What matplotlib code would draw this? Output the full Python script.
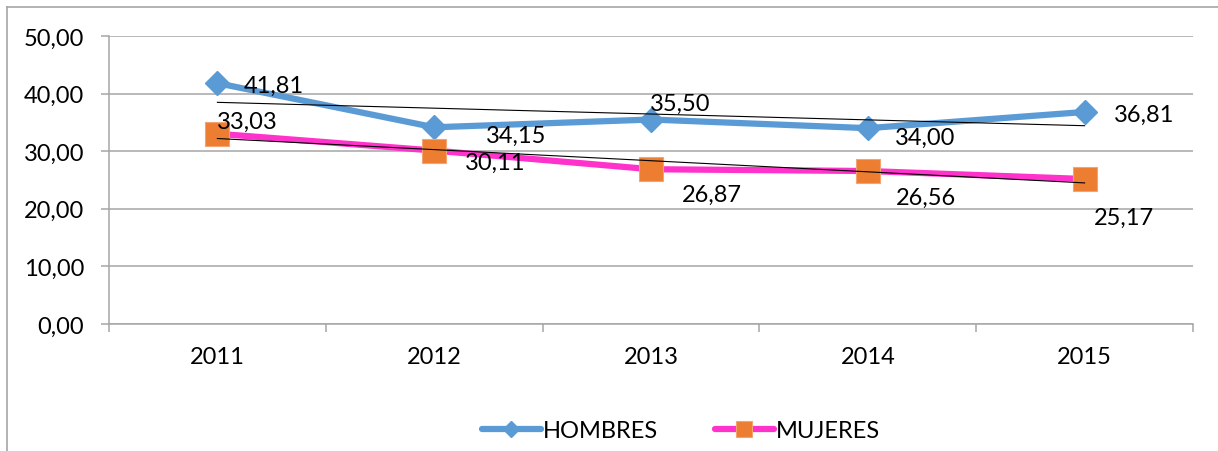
import numpy as np
import matplotlib
matplotlib.use("Agg")
import matplotlib.pyplot as plt
from matplotlib.lines import Line2D

plt.rcParams['font.family'] = ['Lato', 'DejaVu Sans']

years = ['2011', '2012', '2013', '2014', '2015']
hombres = [41.81, 34.15, 35.50, 34.00, 36.81]
mujeres = [33.03, 30.11, 26.87, 26.56, 25.17]

# label offsets in pixels (dx, dy)
off_h = [(56, -2), (82, -8), (29, 16), (57, -9), (60, -2)]
off_m = [(30, 12), (61, -12), (61, -25), (58, -26), (39, -38)]

grey = '#A6A6A6'
blue = '#5B9BD5'
pink = '#FF33CC'
orange = '#ED7D31'
fs = 17

fig = plt.figure(figsize=(12.18, 4.52), dpi=100)
ax = fig.add_axes([109/1218, 1-325/452, (1193-109)/1218, (325-37)/452])

x = np.arange(len(years))
l1, = ax.plot(x, hombres, color=blue, lw=4.5, marker='D', ms=12,
              mfc=blue, mec=blue, solid_capstyle='round', zorder=3, label='HOMBRES')
l2, = ax.plot(x, mujeres, color=pink, lw=4.5, marker='s', ms=17,
              mfc=orange, mec='#F4A470', mew=0.8, solid_capstyle='round', zorder=3, label='MUJERES')

# linear trend lines
for vals in (hombres, mujeres):
    k, b = np.polyfit(x, vals, 1)
    ax.plot(x, k*x + b, color='black', lw=0.8, zorder=4)

for vals, offs in ((hombres, off_h), (mujeres, off_m)):
    for xi, v, (dx, dy) in zip(x, vals, offs):
        ax.annotate(f'{v:.2f}'.replace('.', ','), (xi, v), xytext=(dx, dy),
                    textcoords='offset pixels', ha='center', va='center',
                    fontsize=fs, zorder=5)

ax.set_xlim(-0.5, 4.5)
ax.set_ylim(0, 50)
ax.set_yticks(np.arange(0, 51, 10))
ax.set_yticklabels([f'{v:.2f}'.replace('.', ',') for v in np.arange(0, 51, 10)])
ax.set_xticks(x)
ax.set_xticklabels(years)
ax.set_xticks(np.arange(-0.5, 4.6, 1), minor=True)
ax.tick_params(axis='x', which='major', length=0, pad=16, labelsize=fs)
ax.tick_params(axis='x', which='minor', length=5.5, width=1.1, color=grey, direction='out')
ax.tick_params(axis='y', length=5.8, width=1.1, color=grey, pad=12, labelsize=fs)
ax.grid(axis='y', color=grey, lw=1.1)
ax.set_axisbelow(True)
for s in ['top', 'right']:
    ax.spines[s].set_visible(False)
for s in ['left', 'bottom']:
    ax.spines[s].set_color(grey)
    ax.spines[s].set_linewidth(1.1)

leg = fig.legend(handles=[l1, l2], loc='center', bbox_to_anchor=(681/1218, 1-432/452),
                 ncol=2, frameon=False, fontsize=fs, handlelength=2.5,
                 handletextpad=0.1, columnspacing=2.4)
hs = leg.legend_handles
hs[0].set_markersize(8)
hs[1].set_markersize(12)

# outer chart frame (left and top edges visible)
fig.add_artist(Line2D([7/1218, 7/1218], [0, 1-8/452], color=grey, lw=1.2))
fig.add_artist(Line2D([7/1218, 1], [1-8/452, 1-8/452], color=grey, lw=1.2))

fig.savefig('out.png', dpi=100)
